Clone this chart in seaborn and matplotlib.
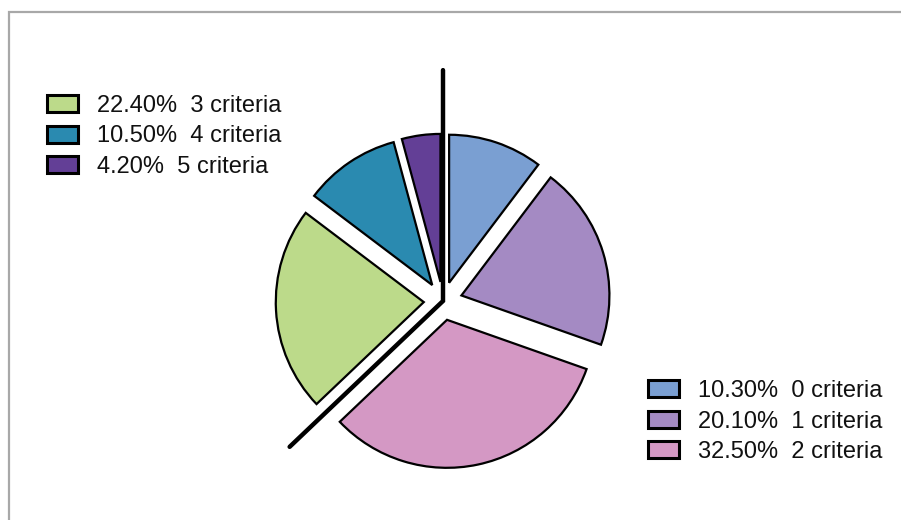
import numpy as np
import matplotlib
matplotlib.use("Agg")
from matplotlib import pyplot as plt
from matplotlib.patches import Patch, Rectangle
import seaborn as sns

sns.set_theme(style="white")
plt.rcParams['font.family'] = ['Liberation Sans', 'DejaVu Sans']

# data
categories = ['0 criteria', '1 criteria', '2 criteria', '3 criteria', '4 criteria', '5 criteria']
shares = [10.3, 20.1, 32.5, 22.4, 10.5, 4.2]
colors = ['#7A9FD2', '#A48AC3', '#D498C4', '#BCDA8A', '#2A8AB0', '#633F96']
labels = [f"{v:.2f}%  {c}" for v, c in zip(shares, categories)]

W, H = 901, 520
cx, cy, R = 443, 301, 148  # pie centre / radius in pixels

fig = plt.figure(figsize=(W / 100, H / 100), dpi=100)
ax = fig.add_axes([0, 0, 1, 1])

ax.pie(shares, colors=colors, startangle=90, counterclock=False,
       explode=[0.13] * len(shares), radius=1,
       wedgeprops=dict(edgecolor='black', linewidth=1.6))
ax.set_aspect('auto')
ax.set_xlim(-cx / R, (W - cx) / R)
ax.set_ylim(-(H - cy) / R, cy / R)
ax.axis('off')

# divider between the two groups (0-2 criteria and 3-5 criteria)
split = np.cumsum(shares)[2] / np.sum(shares) * 360
ang = np.deg2rad(90 - split)
ax.plot([0, 0, 1.43 * np.cos(ang)], [1.56, 0, 1.43 * np.sin(ang)],
        color='black', lw=3.2, solid_joinstyle='miter', zorder=5)

# grey frame
fig.patches.append(Rectangle((8.5 / W, -0.1), 1.2, 1 - 11.5 / H + 0.1,
                             transform=fig.transFigure, fill=False,
                             edgecolor='#A8A8A8', lw=1.6))

def make_legend(idx, anchor):
    handles = [Patch(facecolor=colors[i], edgecolor='black', linewidth=2.2) for i in idx]
    leg = fig.legend(handles, [labels[i] for i in idx], loc='upper left',
                     bbox_to_anchor=anchor, bbox_transform=fig.transFigure,
                     frameon=False, fontsize=17, handlelength=1.3, handleheight=0.75,
                     handletextpad=0.8, labelspacing=0.36, borderpad=0, borderaxespad=0,
                     labelcolor='#111111')
    return leg

make_legend([3, 4, 5], (47 / W, 1 - 95 / H))
make_legend([0, 1, 2], (648 / W, 1 - 380 / H))

fig.savefig('out.png', dpi=100)
